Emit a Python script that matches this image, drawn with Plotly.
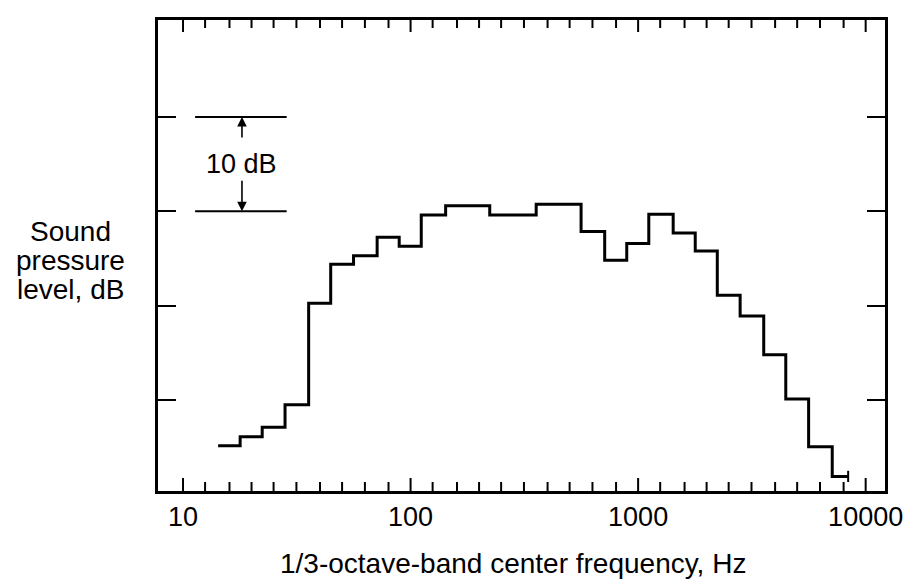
import plotly.graph_objects as go

# 1/3-octave band centre frequencies (Hz) and measured band levels (dB, relative)
band_centers = [16, 20, 25, 31.5, 40, 50, 63, 80, 100, 125, 160, 200, 250, 315,
                400, 500, 630, 800, 1000, 1250, 1600, 2000, 2500, 3150, 4000,
                5000, 6300, 8000]
band_levels = [45.15, 46.1, 47.1, 49.5, 60.25, 64.4, 65.3, 67.25, 66.3, 69.6,
               70.6, 70.6, 69.6, 69.6, 70.75, 70.75, 67.85, 64.8, 66.6, 69.7,
               67.7, 65.8, 61.1, 58.9, 54.8, 50.1, 45.05, 41.9]

# axis tick values / labels
major_ticks = [10, 100, 1000, 10000]
major_labels = ["10", "100", "1000", "10000"]
third_octave_ticks = [10, 12.5, 16, 20, 25, 31.5, 40, 50, 63, 80,
                      100, 125, 160, 200, 250, 315, 400, 500, 630, 800,
                      1000, 1250, 1600, 2000, 2500, 3150, 4000, 5000, 6300, 8000,
                      10000]
level_ticks = [50, 60, 70, 80]

# step outline: each band spans its lower to upper 1/3-octave edge
half = 10 ** 0.05
xs = [fc / half for fc in band_centers] + [band_centers[-1] * 10 ** 0.02]
ys = band_levels + [band_levels[-1]]

XRANGE = [0.89, 4.085]
YRANGE = [40.35, 90.28]
PLOT_H = 580 - 20 - 89
DB_PER_PX = (YRANGE[1] - YRANGE[0]) / PLOT_H
FONT = "Liberation Sans, Arial, sans-serif"

fig = go.Figure()

# 1/3-octave tick marks on the bottom and top frame (decade ticks longer)
tx, ty = [], []
for v in third_octave_ticks:
    big = v in major_ticks
    lb = (13 if big else 9) * DB_PER_PX
    lt = (12 if big else 8) * DB_PER_PX
    tx += [v, v, None, v, v, None]
    ty += [YRANGE[0], YRANGE[0] + lb, None, YRANGE[1], YRANGE[1] - lt, None]
fig.add_trace(go.Scatter(
    x=tx, y=ty, mode="lines", line=dict(color="black", width=2),
    cliponaxis=False, hoverinfo="skip", showlegend=False))

fig.add_trace(go.Scatter(
    x=xs, y=ys, mode="lines", line=dict(color="black", width=3, shape="hv"),
    hoverinfo="skip", showlegend=False))
fig.add_trace(go.Scatter(
    x=[xs[-1]], y=[ys[-1]], mode="markers",
    marker=dict(symbol="line-ns", size=8, line=dict(color="black", width=2)),
    hoverinfo="skip", showlegend=False))

fig.update_layout(
    width=917, height=580,
    margin=dict(l=158, r=32, t=20, b=89),
    paper_bgcolor="white", plot_bgcolor="white",
    font=dict(family=FONT, size=27, color="black"),
    xaxis=dict(
        type="log", range=XRANGE, showgrid=False, zeroline=False,
        showline=True, linecolor="black", linewidth=2.8, mirror=True,
        ticks="", tickmode="array", tickvals=major_ticks, ticktext=major_labels,
        tickfont=dict(family=FONT, size=27),
    ),
    yaxis=dict(
        range=YRANGE,
        showgrid=False, zeroline=False,
        showline=True, linecolor="black", linewidth=2.8, mirror="ticks",
        ticks="inside", ticklen=18, tickwidth=2, tickcolor="black",
        tickmode="array", tickvals=level_ticks, showticklabels=False,
    ),
)

# 10 dB scale bracket
for lvl in (level_ticks[2], level_ticks[3]):
    fig.add_shape(type="line", xref="paper", yref="y",
                  x0=0.051, x1=0.177, y0=lvl, y1=lvl,
                  line=dict(color="black", width=2))
fig.add_annotation(xref="paper", yref="y", x=0.1155, y=level_ticks[3],
                   ax=0, ay=22, text="", showarrow=True, arrowhead=2,
                   arrowsize=1.2, arrowwidth=1.6, arrowcolor="black")
fig.add_annotation(xref="paper", yref="y", x=0.1155, y=level_ticks[2],
                   ax=0, ay=-32, text="", showarrow=True, arrowhead=2,
                   arrowsize=1.2, arrowwidth=1.6, arrowcolor="black")
fig.add_annotation(xref="paper", yref="y", x=0.1155, y=75,
                   text="10 dB", showarrow=False, font=dict(size=27),
                   xanchor="center", yanchor="middle")

# y-axis title (three centred lines)
for i, line in enumerate(["Sound", "pressure", "level, dB"]):
    fig.add_annotation(xref="paper", yref="paper", x=-0.121,
                       y=(491 - (231 + 29 * i)) / 471,
                       text=line, showarrow=False, font=dict(size=28),
                       xanchor="center", yanchor="middle")

# x-axis title
fig.add_annotation(xref="paper", yref="paper", x=0.488, y=(491 - 563) / 471,
                   text="1/3-octave-band center frequency, Hz", showarrow=False,
                   font=dict(size=28), xanchor="center", yanchor="middle")

fig.write_html("out.html")
